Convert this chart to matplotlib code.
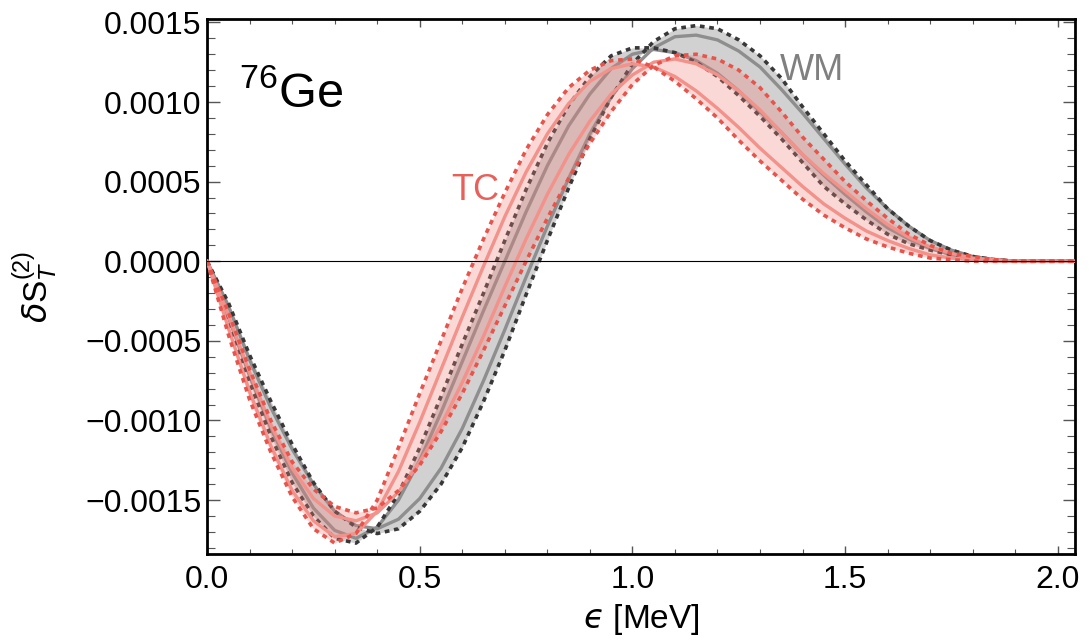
import numpy as np
import matplotlib
matplotlib.use("Agg")
import matplotlib.pyplot as plt
from matplotlib.ticker import MultipleLocator, FixedLocator, FuncFormatter

plt.rcParams['font.family'] = ['Liberation Sans', 'DejaVu Sans']
plt.rcParams['mathtext.fontset'] = 'custom'
plt.rcParams['mathtext.rm'] = 'Liberation Sans'
plt.rcParams['mathtext.it'] = 'DejaVu Sans:italic'

# energy grid (MeV)
eps = [0.00, 0.05, 0.10, 0.15, 0.20, 0.25, 0.30, 0.35, 0.40, 0.45,
       0.50, 0.55, 0.60, 0.65, 0.70, 0.75, 0.80, 0.85, 0.90, 0.95,
       1.00, 1.05, 1.10, 1.15, 1.20, 1.25, 1.30, 1.35, 1.40, 1.45,
       1.50, 1.55, 1.60, 1.65, 1.70, 1.75, 1.80, 1.85, 1.90, 2.05]

# WM band: dashed edges and solid inner curves
wm_dash_a = [0, -0.00026, -0.00059, -0.00088, -0.00115, -0.00139, -0.00157, -0.00167, -0.00171, -0.00168,
             -0.00157, -0.00140, -0.00117, -0.00088, -0.00056, -0.00021, 0.00013, 0.00046, 0.00077, 0.00103,
             0.00124, 0.00138, 0.00146, 0.00148, 0.00146, 0.00139, 0.00129, 0.00115, 0.00097, 0.00080,
             0.00063, 0.00048, 0.00033, 0.00022, 0.00013, 0.00007, 0.00003, 0.00001, 0, 0]
wm_dash_b = [0, -0.00038, -0.00076, -0.00110, -0.00139, -0.00160, -0.00174, -0.00177, -0.00167, -0.00146,
             -0.00117, -0.00085, -0.00052, -0.00020, 0.00013, 0.00045, 0.00074, 0.00098, 0.00116, 0.00129,
             0.00134, 0.00134, 0.00131, 0.00125, 0.00116, 0.00104, 0.00091, 0.00077, 0.00062, 0.00047,
             0.00036, 0.00026, 0.00017, 0.00011, 0.00007, 0.00004, 0.00002, 0.00001, 0, 0]
wm_solid_a = [0, -0.00028, -0.00062, -0.00092, -0.00118, -0.00140, -0.00157, -0.00166, -0.00168, -0.00162,
              -0.00149, -0.00130, -0.00105, -0.00075, -0.00043, -0.00010, 0.00022, 0.00052, 0.00080, 0.00103,
              0.00121, 0.00134, 0.00141, 0.00142, 0.00139, 0.00132, 0.00122, 0.00108, 0.00093, 0.00077,
              0.00061, 0.00046, 0.00033, 0.00022, 0.00013, 0.00007, 0.00003, 0.00001, 0, 0]
wm_solid_b = [0, -0.00035, -0.00072, -0.00105, -0.00133, -0.00155, -0.00169, -0.00174, -0.00167, -0.00150,
              -0.00125, -0.00095, -0.00063, -0.00031, 0.00000, 0.00031, 0.00060, 0.00085, 0.00105, 0.00121,
              0.00130, 0.00133, 0.00131, 0.00126, 0.00118, 0.00107, 0.00094, 0.00081, 0.00067, 0.00054,
              0.00042, 0.00031, 0.00021, 0.00014, 0.00008, 0.00004, 0.00002, 0.00001, 0, 0]

# TC band
tc_dash_a = [0, -0.00032, -0.00068, -0.00100, -0.00126, -0.00143, -0.00154, -0.00158, -0.00155, -0.00144,
             -0.00128, -0.00107, -0.00083, -0.00056, -0.00028, 0.00000, 0.00027, 0.00052, 0.00074, 0.00094,
             0.00111, 0.00123, 0.00129, 0.00130, 0.00127, 0.00120, 0.00109, 0.00094, 0.00078, 0.00064,
             0.00050, 0.00038, 0.00027, 0.00017, 0.00010, 0.00005, 0.00003, 0.00001, 0, 0]
tc_dash_b = [0, -0.00046, -0.00087, -0.00120, -0.00148, -0.00168, -0.00177, -0.00171, -0.00150, -0.00117,
             -0.00083, -0.00050, -0.00017, 0.00014, 0.00043, 0.00070, 0.00092, 0.00109, 0.00120, 0.00126,
             0.00127, 0.00122, 0.00113, 0.00102, 0.00090, 0.00076, 0.00063, 0.00051, 0.00039, 0.00029,
             0.00021, 0.00014, 0.00009, 0.00005, 0.00002, 0.00001, 0, 0, 0, 0]
tc_solid_a = [0, -0.00034, -0.00070, -0.00103, -0.00130, -0.00149, -0.00160, -0.00163, -0.00158, -0.00145,
              -0.00126, -0.00103, -0.00076, -0.00047, -0.00016, 0.00014, 0.00042, 0.00067, 0.00088, 0.00105,
              0.00117, 0.00125, 0.00127, 0.00124, 0.00117, 0.00107, 0.00095, 0.00081, 0.00067, 0.00055,
              0.00044, 0.00033, 0.00023, 0.00015, 0.00009, 0.00005, 0.00002, 0.00001, 0, 0]
tc_solid_b = [0, -0.00042, -0.00082, -0.00116, -0.00144, -0.00163, -0.00173, -0.00171, -0.00157, -0.00132,
              -0.00101, -0.00068, -0.00035, -0.00003, 0.00028, 0.00056, 0.00080, 0.00099, 0.00113, 0.00121,
              0.00124, 0.00122, 0.00116, 0.00107, 0.00096, 0.00084, 0.00071, 0.00059, 0.00047, 0.00036,
              0.00027, 0.00019, 0.00013, 0.00008, 0.00004, 0.00002, 0.00001, 0, 0, 0]

y_ticks = [-0.0015, -0.0010, -0.0005, 0.0, 0.0005, 0.0010, 0.0015]
x_ticks = [0.0, 0.5, 1.0, 1.5, 2.0]

fig = plt.figure(figsize=(10.9, 6.4), dpi=100)
ax = fig.add_axes([0.19, 0.134, 0.796, 0.836])

dash = (0, (1.3, 1.3))
# WM
ax.fill_between(eps, wm_dash_a, wm_dash_b, color='#9a9a9a', alpha=0.45, lw=0, zorder=1)
ax.plot(eps, wm_solid_a, color='#8e8e8e', lw=2.4, zorder=2)
ax.plot(eps, wm_solid_b, color='#8e8e8e', lw=2.4, zorder=2)
ax.plot(eps, wm_dash_a, color='#383838', lw=2.6, ls=dash, zorder=2)
ax.plot(eps, wm_dash_b, color='#383838', lw=2.6, ls=dash, zorder=2)
# TC
ax.fill_between(eps, tc_dash_a, tc_dash_b, color='#f07f7a', alpha=0.3, lw=0, zorder=3)
ax.plot(eps, tc_solid_a, color='#f3918b', lw=2.4, zorder=4)
ax.plot(eps, tc_solid_b, color='#f3918b', lw=2.4, zorder=4)
ax.plot(eps, tc_dash_a, color='#e8544c', lw=2.6, ls=dash, zorder=4)
ax.plot(eps, tc_dash_b, color='#e8544c', lw=2.6, ls=dash, zorder=4)

ax.axhline(0, color='black', lw=0.8, zorder=5)

ax.text(0.075, 0.00096, r'$^{76}$Ge', fontsize=35, va='baseline')
ax.text(1.346, 0.0012, 'WM', fontsize=26, color='#808080', va='center')
ax.text(0.574, 0.000446, 'TC', fontsize=26, color='#e8605a', va='center')

ax.set_xlim(0, 2.04)
ax.set_ylim(-0.00184, 0.00152)
ax.xaxis.set_major_locator(FixedLocator(x_ticks))
ax.xaxis.set_minor_locator(MultipleLocator(0.1))
ax.yaxis.set_major_locator(FixedLocator(y_ticks))
ax.yaxis.set_minor_locator(MultipleLocator(0.0001))
ax.xaxis.set_major_formatter(FuncFormatter(lambda v, p: f'{v:.1f}'))
ax.yaxis.set_major_formatter(FuncFormatter(lambda v, p: f'{v:.4f}'.replace('-', '\u2212')))

ax.tick_params(which='both', direction='in', top=True, right=True, color='#555555', labelsize=23)
ax.tick_params(axis='x', which='major', length=6, width=1, pad=8)
ax.tick_params(axis='x', which='minor', length=3.5, width=0.8)
ax.tick_params(axis='y', which='major', length=9, width=1, pad=4)
ax.tick_params(axis='y', which='minor', length=6, width=0.8)
for s in ax.spines.values():
    s.set_linewidth(2)

ax.set_xlabel('$\u03f5$ [MeV]', fontsize=24)
ax.set_ylabel(r'$\delta\mathrm{S}_{T}^{(2)}$', fontsize=24)
ax.xaxis.set_label_coords(0.5, -0.09)
ax.yaxis.set_label_coords(-0.17, 0.5)

fig.savefig('out.png', dpi=100)
